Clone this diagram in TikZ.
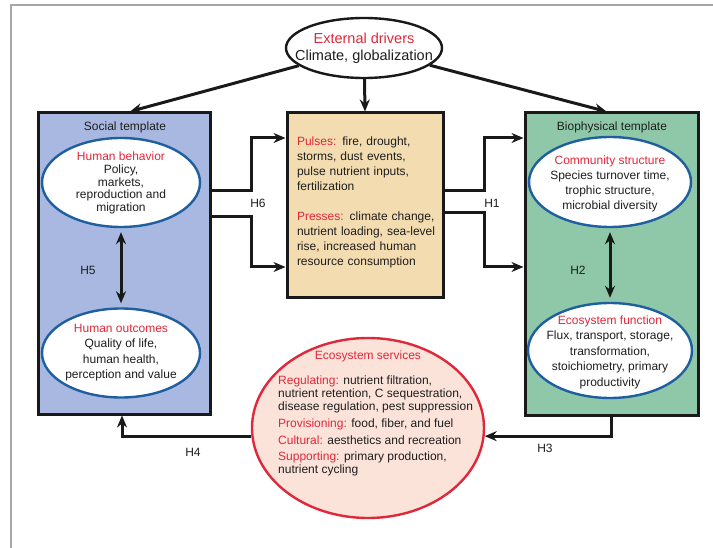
\documentclass[tikz,border=0pt]{standalone}
\usepackage{fontspec}
\setmainfont{Liberation Sans}
\usepackage{tikz}
\usetikzlibrary{arrows.meta, positioning, shapes.geometric}
\definecolor{hred}{HTML}{E0283C}
\definecolor{tgray}{HTML}{1E1E1E}
\definecolor{socblue}{HTML}{A8B8E0}
\definecolor{biogreen}{HTML}{8FC8A8}
\definecolor{pptan}{HTML}{F3DCB0}
\definecolor{svcpink}{HTML}{FBE3DA}
\definecolor{ovblue}{HTML}{1F5FA0}
\newcommand{\hl}[1]{\textcolor{hred}{#1}}

\begin{document}
\begin{tikzpicture}[x=1pt, y=-1pt,
		tbox/.style={draw=black!90, line width=3pt, minimum width=172pt, minimum height=301pt},
		oval/.style={draw=ovblue, line width=2.4pt, fill=white, ellipse, minimum width=158pt, minimum height=89pt},
		otext/.style={align=center, inner sep=0pt, text=tgray, font=\fontsize{12}{14.5}\selectfont},
		hlab/.style={text=tgray, font=\fontsize{12}{14}\selectfont},
		arr/.style={-{Stealth[length=12pt, width=10pt]}, line width=3pt, black!90},
		dbl/.style={{Stealth[length=12pt, width=10pt]}-{Stealth[length=12pt, width=10pt]}, line width=3pt, black!90, shorten <=4pt, shorten >=4pt}
		]
		\useasboundingbox (0,0) rectangle (713,548);
		\draw[gray!70, line width=1.5pt] (11,548) -- (11,5) -- (713,5);
		
		\node[ellipse, draw=black!90, line width=2.4pt, fill=white, minimum width=156pt, minimum height=60pt] (ext) at (364,48) {};
		\node[otext, font=\fontsize{14.5}{17}\selectfont] (extt) at (ext) {\hl{External drivers}\\Climate, globalization};
		
		\node[tbox, fill=socblue] (social) at (124,263.5) {};
		\node[tbox, fill=pptan, minimum width=156pt, minimum height=185pt] (pp) at (365,205.5) {};
		\node[tbox, fill=biogreen, minimum width=173pt, minimum height=302pt] (bio) at (611.5,264) {};
		
		\node[otext] (soct) at (125,127) {Social template};
		\node[otext] (biot) at (612,127) {Biophysical template};
		
		\node[oval] (hb) at (121,182.5) {};
		\node[otext, font=\fontsize{12}{12.6}\selectfont] (hbt) at (121,183) {\hl{Human behavior}\\Policy,\\markets,\\reproduction and\\migration};
		\node[oval] (ho) at (121,353) {};
		\node[otext, font=\fontsize{12}{15.5}\selectfont] (hot) at (121,352.5) {\hl{Human outcomes}\\Quality of life,\\human health,\\perception and value};
		\node[oval, minimum width=162pt, minimum height=90pt] (cs) at (610,182) {};
		\node[otext, font=\fontsize{12}{15}\selectfont] (cst) at (610,183.5) {\hl{Community structure}\\Species turnover time,\\trophic structure,\\microbial diversity};
		\node[oval, minimum width=164pt, minimum height=95pt] (ef) at (610,350.5) {};
		\node[otext, font=\fontsize{12}{15.5}\selectfont] (eft) at (610,352) {\hl{Ecosystem function}\\Flux, transport, storage,\\transformation,\\stoichiometry, primary\\productivity};
		
		\node[otext, align=left, font=\fontsize{12}{15}\selectfont, text width=140pt] (ppt) at (367,202) {\hl{Pulses:} fire, drought,\\storms, dust events,\\pulse nutrient inputs,\\fertilization\\[15pt]\hl{Presses:} climate change,\\nutrient loading, sea-level\\rise, increased human\\resource consumption};
		
		\node[ellipse, draw=hred, line width=2.4pt, fill=svcpink, minimum width=232pt, minimum height=180pt] (svc) at (368,428) {};
		\node[otext] (svct) at (368,356) {\hl{Ecosystem services}};
		\node[otext, align=left, anchor=west, font=\fontsize{12}{13.2}\selectfont] (svcl) at (278,426) {\hl{Regulating:} nutrient filtration,\\nutrient retention, C sequestration,\\disease regulation, pest suppression\\[3.5pt]\hl{Provisioning:} food, fiber, and fuel\\[3.5pt]\hl{Cultural:} aesthetics and recreation\\[3.5pt]\hl{Supporting:} primary production,\\nutrient cycling};
		
		\draw[arr] (ext) -- ([xshift=6pt]social.north);
		\draw[arr] (ext) -- (pp.north);
		\draw[arr] (ext) -- ([xshift=-5pt]bio.north);
		
		\draw[arr] ([yshift=72.5pt]social.east) -- ++(40,0) |- ([yshift=67.5pt]pp.west);
		\draw[arr] ([yshift=46.5pt]social.east) -- ++(40,0) |- ([yshift=-61.5pt]pp.west);
		\draw[arr] ([yshift=14.5pt]pp.east) -- ++(40,0) |- ([yshift=126pt]bio.west);
		\draw[arr] ([yshift=-7.5pt]pp.east) -- ++(40,0) |- ([yshift=-3pt]bio.west);
		
		\draw[dbl] (hb.south) -- (ho.north);
		\draw[dbl] (cs.south) -- (ef.north);
		
		\draw[arr] (bio.south) |- (svc.-4);
		\draw[arr] (svc.184) -| ([xshift=-2pt]social.south);
		
		\node[hlab] (h1) at (492,203) {H1};
		\node[hlab] (h2) at (578,270) {H2};
		\node[hlab] (h3) at (545,448) {H3};
		\node[hlab] (h4) at (193,452) {H4};
		\node[hlab] (h5) at (88,270) {H5};
		\node[hlab] (h6) at (258,203) {H6};
	\end{tikzpicture}
\end{document}
